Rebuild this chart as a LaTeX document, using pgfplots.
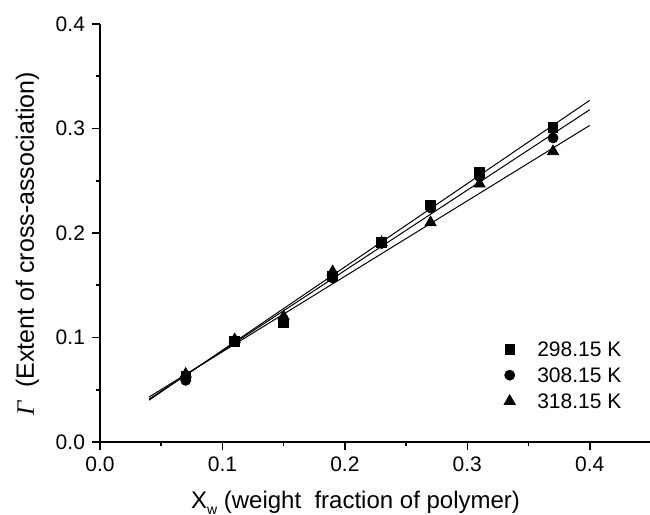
\documentclass[border=0pt]{standalone}
\usepackage{pgfplots}
\pgfplotsset{compat=1.18}
\usetikzlibrary{calc}
\usepackage{fontspec}
\setmainfont{Liberation Sans}
\newfontfamily\gfont{Liberation Serif}

\begin{document}
\begin{tikzpicture}
\begin{axis}[
    scale only axis,
    width=275.5pt, height=209pt,
    xmin=0, xmax=0.45, ymin=0, ymax=0.4,
    axis x line*=bottom, axis y line*=left,
    axis line style={line width=0.8pt},
    xtick={0,0.1,0.2,0.3,0.4},
    ytick={0,0.1,0.2,0.3,0.4},
    minor tick num=1,
    tick align=outside,
    major tick length=4pt, minor tick length=2pt,
    tick style={black, line width=0.8pt},
    /pgf/number format/assume math mode=true,
    /pgf/number format/.cd, fixed, fixed zerofill, precision=1,
    /pgfplots/.cd,
    tick label style={font=\fontsize{10.5}{12}\selectfont},
    xlabel={X\raisebox{-3pt}{\fontsize{7}{8}\selectfont w} (weight\ \ fraction of polymer)},
    xlabel style={at={(axis description cs:0.1525,-0.158)}, anchor=base west,
        font=\fontsize{12}{14}\selectfont},
    ylabel={{\gfont\itshape Γ}\ \ (Extent of cross-association)},
    ylabel style={at={(axis description cs:-0.12,0.474)}, anchor=base, rotate=0,
        font=\fontsize{12.5}{14}\selectfont},
    legend style={at={(axis cs:0.3301,0.096)}, anchor=north west, draw=none, fill=none,
        inner sep=0pt, outer sep=0pt,
        nodes={inner sep=0pt, text height=7.5pt, text depth=0pt},
        font=\fontsize{10.5}{12}\selectfont, row sep=5.5pt},
    legend cell align=left,
]
% linear fits
\addplot[black, line width=0.5pt, forget plot] coordinates {(0.04,0.040) (0.40,0.327)};
\addplot[black, line width=0.5pt, forget plot] coordinates {(0.04,0.041) (0.40,0.318)};
\addplot[black, line width=0.5pt, forget plot] coordinates {(0.04,0.043) (0.40,0.303)};

\addplot[only marks, mark=square*, mark size=2.4pt, black] coordinates {
  (0.07,0.063) (0.11,0.096) (0.15,0.114) (0.19,0.159)
  (0.23,0.191) (0.27,0.227) (0.31,0.258) (0.37,0.301)};
\addlegendentry{\hspace{11pt}298.15 K}
\addplot[only marks, mark=*, mark size=2.5pt, black] coordinates {
  (0.07,0.059) (0.11,0.096) (0.15,0.117) (0.19,0.157)
  (0.23,0.190) (0.27,0.224) (0.31,0.254) (0.37,0.291)};
\addlegendentry{\hspace{11pt}308.15 K}
\addplot[only marks, mark=triangle*, mark size=3.2pt, black] coordinates {
  (0.07,0.065) (0.11,0.098) (0.15,0.120) (0.19,0.163)
  (0.23,0.191) (0.27,0.210) (0.31,0.247) (0.37,0.278)};
\addlegendentry{\hspace{11pt}318.15 K}
\end{axis}
\pgfresetboundingbox
\path ($(current axis.south west)+(-50pt,-36.5pt)$) rectangle ++(325pt,257.5pt);
\end{tikzpicture}
\end{document}
